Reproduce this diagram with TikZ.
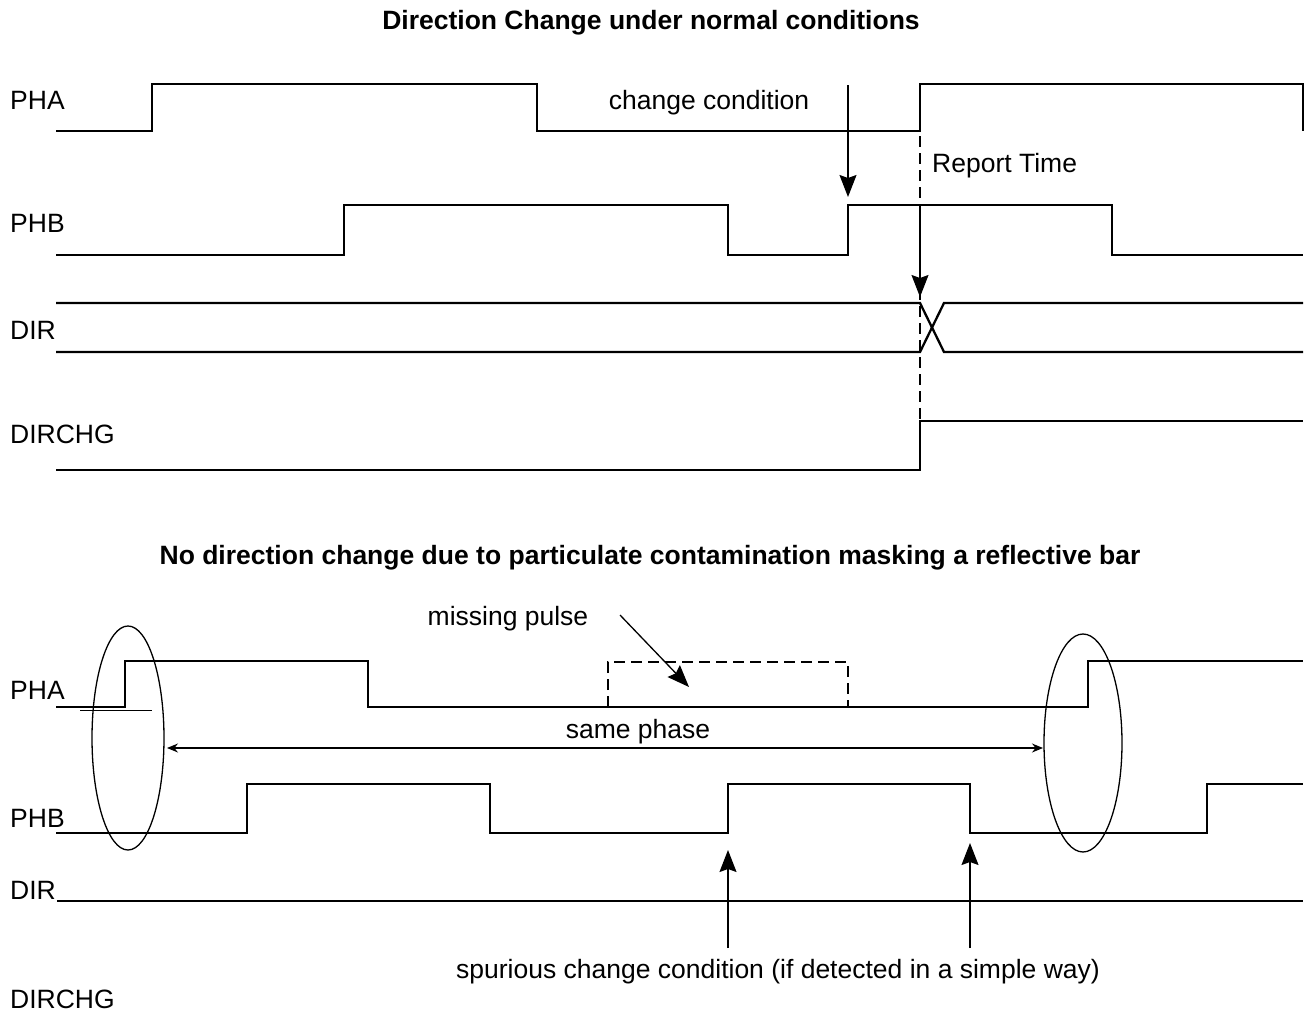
\documentclass[tikz,border=0pt]{standalone}
\usepackage{fontspec}
\setmainfont{Liberation Sans}
\usetikzlibrary{arrows.meta}
\begin{document}
\begin{tikzpicture}[x=1pt,y=-1pt,
  wave/.style={line width=2.7pt, line join=miter},
  thinline/.style={line width=1.3pt},
  dashline/.style={line width=1.3pt, dash pattern=on 11pt off 6pt},
  lbl/.style={anchor=base west, inner sep=0pt, font=\fontsize{26.5}{30}\selectfont},
  ctr/.style={anchor=base, inner sep=0pt, font=\fontsize{26.5}{30}\selectfont},
  ttl/.style={anchor=base, inner sep=0pt, font=\fontsize{26.5}{30}\selectfont\bfseries},
  bigarrow/.style={line width=1.3pt, -{Stealth[length=22pt,width=17pt,inset=3pt]}},
  dblarrow/.style={line width=1.3pt, {Stealth[length=11pt,width=9pt]}-{Stealth[length=11pt,width=9pt]}}
]
\useasboundingbox (0,0) rectangle (1307,1017);

% ---------- top diagram ----------
\node[ttl] (t1) at (651,29) {Direction Change under normal conditions};
\node[lbl] (lpha1) at (10,109) {PHA};
\node[lbl] (lphb1) at (10,232) {PHB};
\node[lbl] (ldir1) at (10,339) {DIR};
\node[lbl] (ldch1) at (10,443) {DIRCHG};
\node[ctr] (cc) at (709,109) {change condition};
\node[lbl] (rt) at (932,172) {Report Time};

\draw[wave] (56,131) -- (152,131) -- (152,84) -- (537,84) -- (537,131) -- (920,131) -- (920,84) -- (1303,84) -- (1303,131);
\draw[wave] (56,255) -- (344,255) -- (344,205) -- (728,205) -- (728,255) -- (848,255) -- (848,205) -- (1112,205) -- (1112,255) -- (1303,255);
\draw[wave, line width=2.3pt] (56,303) -- (920,303) -- (944,352) -- (1303,352);
\draw[wave, line width=2.3pt] (56,352) -- (920,352) -- (944,303) -- (1303,303);
\draw[wave] (56,470) -- (920,470) -- (920,421) -- (1303,421);

\coordinate (ccs) at (848,85);
\coordinate (cce) at (848,197);
\draw[bigarrow] (ccs) -- (cce);
\coordinate (rts) at (920,136);
\coordinate (rte) at (920,470);
\draw[dashline] (rts) -- (rte);
\coordinate (ras) at (920,205);
\coordinate (rae) at (920,297);
\draw[bigarrow] (ras) -- (rae);

% ---------- bottom diagram ----------
\node[ttl] (t2) at (650,564) {No direction change due to particulate contamination masking a reflective bar};
\node[lbl] (lpha2) at (10,699) {PHA};
\node[lbl] (lphb2) at (10,827) {PHB};
\node[lbl] (ldir2) at (10,899) {DIR};
\node[lbl] (ldch2) at (10,1008) {DIRCHG};
\node[ctr] (mp) at (508,625) {missing pulse};
\node[ctr] (sp) at (638,738) {same phase};
\node[ctr] (sc) at (778,978) {spurious change condition (if detected in a simple way)};

\draw[wave] (56,707) -- (125,707) -- (125,661) -- (368,661) -- (368,707) -- (1088,707) -- (1088,661) -- (1303,661);
\draw[thinline] (80,710.5) -- (152,710.5);
\draw[wave, dash pattern=on 11pt off 6pt] (608,707) -- (608,662) -- (848,662) -- (848,707);
\draw[wave] (56,833) -- (247,833) -- (247,784) -- (490,784) -- (490,833) -- (728,833) -- (728,784) -- (970,784) -- (970,833) -- (1207,833) -- (1207,784) -- (1303,784);
\draw[wave] (57,901) -- (1303,901);

\coordinate (mps) at (620,615);
\coordinate (mpe) at (689,687);
\draw[bigarrow] (mps) -- (mpe);
\coordinate (spl) at (167,748);
\coordinate (spr) at (1043,748);
\draw[dblarrow] (spl) -- (spr);
\draw[thinline] (128,738) ellipse [x radius=36, y radius=112];
\draw[thinline] (1083,743) ellipse [x radius=39, y radius=109];

\coordinate (a1s) at (728,948);
\coordinate (a1e) at (728,850);
\coordinate (a2s) at (970,948);
\coordinate (a2e) at (970,843);
\draw[bigarrow] (a1s) -- (a1e);
\draw[bigarrow] (a2s) -- (a2e);
\end{tikzpicture}
\end{document}
